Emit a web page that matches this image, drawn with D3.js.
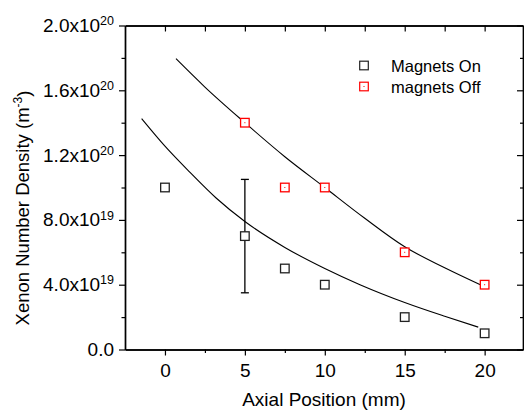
<!DOCTYPE html>
<html>
<head>
<meta charset="utf-8">
<script src="https://cdn.jsdelivr.net/npm/d3@7"></script>
<style>
  html, body { margin: 0; padding: 0; background: #fff; }
  svg { display: block; font-family: "Liberation Sans", Arial, sans-serif; }
</style>
</head>
<body>
<svg id="chart" width="524" height="413"></svg>
<script>
// Xenon number density along the axis (values in units of 1e19 m^-3)
const onPositions = [0, 5, 7.5, 10, 15, 20];
const magnetsOn = [10, 7, 5, 4, 2, 1];
const offPositions = [5, 7.5, 10, 15, 20];
const magnetsOff = [14, 10, 10, 6, 4];

// error bar on the 5 mm "Magnets On" point
const errX = [5];
const errLow = [3.5];
const errHigh = [10.5];

// decay fit curves, sampled
const fitOnX = [-1.46, 0, 1.5, 3.2, 5, 7.5, 10, 12.2, 15, 17.5, 19.6];
const fitOnY = [14.25, 12.55, 11.0, 9.35, 7.9, 6.3, 5.0, 4.0, 2.9, 2.05, 1.38];
const fitOffX = [0.69, 2.5, 5, 7.5, 10, 12.5, 15, 17.5, 19.8];
const fitOffY = [17.95, 16.2, 14.0, 11.9, 10.0, 8.1, 6.34, 5.05, 3.97];

// axis ticks
const xMajor = [0, 5, 10, 15, 20];
const xMinor = [2.5, 7.5, 12.5, 17.5];
const yMajor = [0, 4, 8, 12, 16, 20];
const yMinor = [2, 6, 10, 14, 18];
const yTickMain = ["0.0", "4.0x10", "8.0x10", "1.2x10", "1.6x10", "2.0x10"];
const yTickExp = ["", "19", "19", "20", "20", "20"];

const seriesNames = ["Magnets On", "magnets Off"];
const seriesColors = ["#222", "#ff0000"];

const plotLeft = 125, plotRight = 523, plotTop = 25.5, plotBottom = 349.5;
const svg = d3.select("#chart");

const x = d3.scaleLinear().domain([-2.5, 22.4]).range([plotLeft, plotRight]);
const y = d3.scaleLinear().domain([0, 20]).range([plotBottom, plotTop]);

const tickFont = 19;

function styleAxis(g) {
  g.select(".domain").attr("stroke", "#000").attr("stroke-width", 1.4);
  g.selectAll(".tick line").attr("stroke", "#000").attr("stroke-width", 1.2);
  g.selectAll(".tick text").attr("fill", "#000").attr("font-size", tickFont)
    .attr("font-family", "Liberation Sans, Arial, sans-serif");
}

// bottom axis
svg.append("g").attr("transform", `translate(0,${plotBottom})`)
  .call(d3.axisBottom(x).tickValues(xMajor).tickSize(6).tickSizeOuter(0).tickPadding(8).tickFormat(d3.format("d")))
  .call(styleAxis);
svg.append("g").attr("transform", `translate(0,${plotBottom})`)
  .call(d3.axisBottom(x).tickValues(xMinor).tickSize(3.5).tickSizeOuter(0).tickFormat(""))
  .call(styleAxis);

// top axis (ticks inward)
svg.append("g").attr("transform", `translate(0,${plotTop})`)
  .call(d3.axisBottom(x).tickValues(xMajor).tickSize(6).tickSizeOuter(0).tickFormat(""))
  .call(styleAxis);
svg.append("g").attr("transform", `translate(0,${plotTop})`)
  .call(d3.axisBottom(x).tickValues(xMinor).tickSize(6).tickSizeOuter(0).tickFormat(""))
  .call(styleAxis);

// left axis with power-of-ten labels
const leftAxis = svg.append("g").attr("transform", `translate(${plotLeft},0)`)
  .call(d3.axisLeft(y).tickValues(yMajor).tickSize(6).tickSizeOuter(0).tickPadding(5).tickFormat(() => ""))
  .call(styleAxis);
leftAxis.selectAll(".tick text").each(function(d, i) {
  const t = d3.select(this);
  t.text(null);
  t.append("tspan").text(yTickMain[i]);
  if (yTickExp[i]) {
    t.append("tspan").attr("font-size", 12.5).attr("dy", "-0.55em").text(yTickExp[i]);
  }
});
svg.append("g").attr("transform", `translate(${plotLeft},0)`)
  .call(d3.axisLeft(y).tickValues(yMinor).tickSize(3.5).tickSizeOuter(0).tickFormat(""))
  .call(styleAxis);

// right axis (ticks inward)
svg.append("g").attr("transform", `translate(${plotRight},0)`)
  .call(d3.axisLeft(y).tickValues(yMajor).tickSize(6).tickSizeOuter(0).tickFormat(""))
  .call(styleAxis);
svg.append("g").attr("transform", `translate(${plotRight},0)`)
  .call(d3.axisLeft(y).tickValues(yMinor).tickSize(3).tickSizeOuter(0).tickFormat(""))
  .call(styleAxis);

// axis titles
svg.append("text")
  .attr("x", (plotLeft + plotRight) / 2).attr("y", 406)
  .attr("text-anchor", "middle").attr("font-size", 19).attr("fill", "#000")
  .text("Axial Position (mm)");

const yTitle = svg.append("text")
  .attr("transform", "translate(29,208) rotate(-90)")
  .attr("text-anchor", "middle").attr("font-size", 18.5).attr("fill", "#000");
yTitle.append("tspan").text("Xenon Number Density (m");
yTitle.append("tspan").attr("font-size", 12).attr("dy", "-0.6em").text("-3");
yTitle.append("tspan").attr("dy", "0.42em").text(")");

// fit curves
const line = d3.line().x(d => x(d[0])).y(d => y(d[1])).curve(d3.curveMonotoneX);
svg.append("path")
  .attr("d", line(fitOnX.map((v, i) => [v, fitOnY[i]])))
  .attr("fill", "none").attr("stroke", "#000").attr("stroke-width", 1.1);
svg.append("path")
  .attr("d", line(fitOffX.map((v, i) => [v, fitOffY[i]])))
  .attr("fill", "none").attr("stroke", "#000").attr("stroke-width", 1.1);

// error bar
const eb = svg.append("g").attr("stroke", "#000").attr("stroke-width", 1.3);
errX.forEach((xv, i) => {
  eb.append("line").attr("x1", x(xv)).attr("x2", x(xv)).attr("y1", y(errLow[i])).attr("y2", y(errHigh[i]));
  eb.append("line").attr("x1", x(xv) - 4).attr("x2", x(xv) + 4).attr("y1", y(errLow[i])).attr("y2", y(errLow[i]));
  eb.append("line").attr("x1", x(xv) - 4).attr("x2", x(xv) + 4).attr("y1", y(errHigh[i])).attr("y2", y(errHigh[i]));
});

const sq = 8.6;
function squares(xs, ys, color, dot) {
  const g = svg.append("g");
  xs.forEach((xv, i) => {
    g.append("rect")
      .attr("x", x(xv) - sq / 2).attr("y", y(ys[i]) - sq / 2)
      .attr("width", sq).attr("height", sq)
      .attr("fill", "#fff").attr("stroke", color).attr("stroke-width", 1.3);
    if (dot) {
      g.append("rect").attr("x", x(xv) - 0.5).attr("y", y(ys[i]) - 0.5)
        .attr("width", 1).attr("height", 1).attr("fill", color);
    }
  });
}
squares(onPositions, magnetsOn, seriesColors[0], false);
squares(offPositions, magnetsOff, seriesColors[1], true);

// legend
const legend = svg.append("g");
seriesNames.forEach((name, i) => {
  const cy = 65.5 + i * 21;
  legend.append("rect")
    .attr("x", 364 - sq / 2).attr("y", cy - sq / 2).attr("width", sq).attr("height", sq)
    .attr("fill", "#fff").attr("stroke", seriesColors[i]).attr("stroke-width", 1.2);
  if (i === 1) {
    legend.append("rect").attr("x", 363.5).attr("y", cy - 0.5).attr("width", 1).attr("height", 1)
      .attr("fill", seriesColors[i]);
  }
  legend.append("text")
    .attr("x", 391).attr("y", cy + 6.5)
    .attr("font-size", 16.5).attr("fill", "#000")
    .text(name);
});
</script>
</body>
</html>
